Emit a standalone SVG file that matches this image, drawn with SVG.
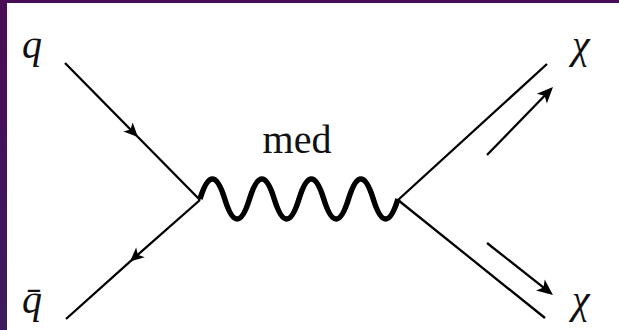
<svg xmlns="http://www.w3.org/2000/svg" width="619" height="330" viewBox="0 0 619 330">
  <defs>
    <linearGradient id="frameGrad" x1="0" y1="0" x2="0" y2="1">
      <stop offset="0" stop-color="#4a0c55"/>
      <stop offset="1" stop-color="#3a1a60"/>
    </linearGradient>
    <marker id="arrow" viewBox="-18 -8 20 16" refX="-3" refY="0" markerWidth="20" markerHeight="16" markerUnits="userSpaceOnUse" orient="auto">
      <path d="M0,0 L-16,-7 L-12,0 L-16,7 Z" fill="#000"/>
    </marker>
    <marker id="midarrow" viewBox="-16 -8 18 16" refX="0" refY="0" markerWidth="18" markerHeight="16" markerUnits="userSpaceOnUse" orient="auto">
      <path d="M0,0 L-14,-6.5 L-10.5,0 L-14,6.5 Z" fill="#000"/>
    </marker>
  </defs>
  <style>
    .line { fill: none; stroke: #000; stroke-width: 2.3; stroke-linecap: butt; }
    .wave { fill: none; stroke: #000; stroke-width: 5.5; stroke-linejoin: round; }
    .lab { font-family: "Liberation Serif", "DejaVu Serif", serif; font-style: italic; font-size: 40px; fill: #111; }
    .rm { font-family: "Liberation Serif", "DejaVu Serif", serif; font-size: 40px; fill: #111; }
  </style>
  <rect x="0" y="0" width="619" height="330" fill="#ffffff"/>
  <rect x="0" y="0" width="619" height="3" fill="#4a0c55"/>
  <rect x="0" y="0" width="7" height="330" fill="url(#frameGrad)"/>

  <g id="connectors">
    <path id="q-line" class="line" d="M65,63 L137.9,137 L200,200" marker-mid="url(#midarrow)"/>
    <path id="qbar-line" class="line" d="M200,200 L130,261.6 L66,319" marker-mid="url(#midarrow)"/>
    <path id="mediator" class="wave" d="M200,199 q12.375,-40 24.75,0 t24.75,0 t24.75,0 t24.75,0 t24.75,0 t24.75,0 t24.75,0 t24.75,0"/>
    <path id="chi1-line" class="line" d="M398,200 L547,64"/>
    <path id="chi2-line" class="line" d="M398,200 L545,318"/>
    <path id="chi1-mom" class="line" d="M487,155 L550.9,89.2" marker-end="url(#arrow)"/>
    <path id="chi2-mom" class="line" d="M487,243 L550.6,293.1" marker-end="url(#arrow)"/>
  </g>

  <g id="node-q"><text class="lab" x="22" y="58">q</text></g>
  <g id="node-qbar"><text class="lab" x="22" y="313">q̄</text></g>
  <g id="node-chi1"><text class="lab" x="572" y="58">χ</text></g>
  <g id="node-chi2"><text class="lab" x="572" y="313">χ</text></g>
  <g id="label-med"><text class="rm" x="297" y="153" text-anchor="middle">med</text></g>
</svg>
